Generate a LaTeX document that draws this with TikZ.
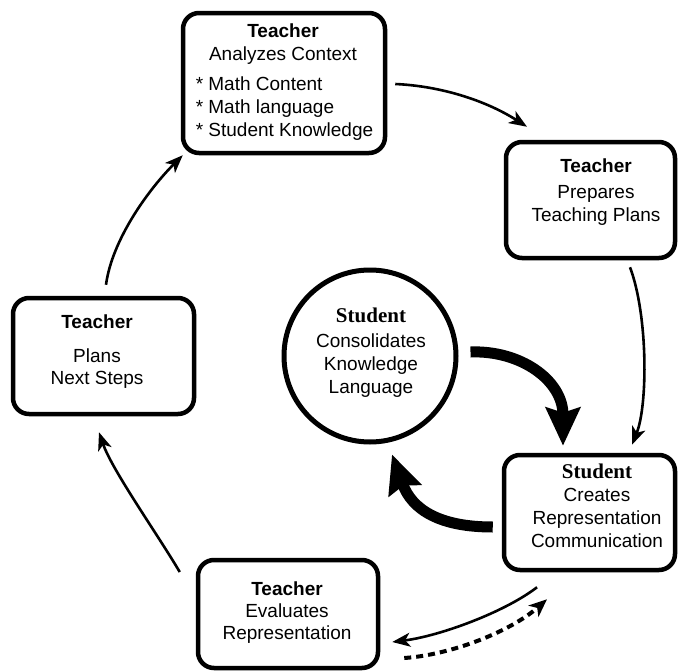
\documentclass[tikz,border=0pt]{standalone}
\usepackage{fontspec}
\setmainfont{Liberation Sans}
\newfontfamily\serifface{Liberation Serif}
\usetikzlibrary{arrows.meta}
\begin{document}
\begin{tikzpicture}[x=1pt,y=-1pt,
  box/.style={draw=black,line width=4.5pt,rounded corners=16pt,inner sep=0pt},
  txt/.style={inner sep=0pt,anchor=north,align=center,font=\fontsize{19}{23}\selectfont},
  thin/.style={line width=2.6pt,-{Stealth[length=18pt,width=14pt,inset=5pt]}},
  thick/.style={line width=11pt,-{Stealth[length=38pt,width=34pt,inset=5pt]}},
  dsh/.style={line width=4pt,dash pattern=on 7pt off 5pt,-{Stealth[length=18pt,width=15pt,inset=5pt]}}
]
\useasboundingbox (0,0) rectangle (678,672);
\fill[white] (0,0) rectangle (678,672);

% boxes
\node[box,minimum width=202pt,minimum height=140pt] (ctx) at (284,83) {};
\node[box,minimum width=169pt,minimum height=116pt] (prep) at (590.5,200) {};
\node[box,minimum width=181pt,minimum height=116pt] (plans) at (103.5,356) {};
\node[box,minimum width=180pt,minimum height=108pt] (eval) at (288,614) {};
\node[box,minimum width=171pt,minimum height=115pt] (stu) at (589.5,512.5) {};
\node[draw=black,line width=5pt,circle,minimum size=172pt,inner sep=0pt] (circ) at (370,356) {};

% texts
\node[txt] (ctxhead) at (283,23.4) {\textbf{Teacher}\\Analyzes Context};
\node[txt,align=left] (ctxlist) at (284.5,76.4) {* Math Content\\* Math language\\* Student Knowledge};
\node[txt] (preptxt) at (596,158.4) {\textbf{Teacher}\\[3pt]Prepares\\Teaching Plans};
\node[txt,font=\fontsize{19}{22}\selectfont] (planstxt) at (97,314.4) {\textbf{Teacher}\\[12pt]Plans\\Next Steps};
\node[txt,font=\fontsize{19}{22}\selectfont] (evaltxt) at (287,581.4) {\textbf{Teacher}\\Evaluates\\Representation};
\node[txt] (stutxt) at (597,463.8) {{\serifface\bfseries\fontsize{21}{23}\selectfont Student}\\Creates\\Representation\\Communication};
\node[txt] (circtxt) at (371,307.8) {{\serifface\bfseries\fontsize{21}{23}\selectfont Student}\\[2pt]Consolidates\\Knowledge\\Language};

% outer cycle
\draw[thin] ([shift={(8,1)}]ctx.east) .. controls (440,86) and (485,100) .. ([shift={(-63.5,-13)}]prep.north);
\draw[thin] ([shift={(39.5,7)}]prep.south) .. controls (648,315) and (648,405) .. ([shift={(42.5,-8)}]stu.north);
\draw[thin] ([shift={(-52.5,15)}]stu.south) .. controls (505,612) and (440,636) .. ([shift={(12,28)}]eval.east);
\draw[dsh] ([shift={(24,44)}]eval.east) .. controls (450,655) and (510,632) .. ([shift={(-42.5,27)}]stu.south);
\draw[thin] ([shift={(-16,-42)}]eval.west) .. controls (158,535) and (112,470) .. ([shift={(-4.5,16)}]plans.south);
\draw[thin] ([shift={(2.5,-11)}]plans.north) .. controls (112,240) and (148,190) .. ([shift={(2,0)}]ctx.south west);

% inner thick cycle
\draw[thick] ([shift={(12,-4)}]circ.east) .. controls (520,350) and (563,380) .. ([shift={(-26.5,-7)}]stu.north);
\draw[thick] ([shift={(-9,14.5)}]stu.west) .. controls (440,527) and (412,510) .. ([shift={(22,10)}]circ.south);
\end{tikzpicture}
\end{document}
